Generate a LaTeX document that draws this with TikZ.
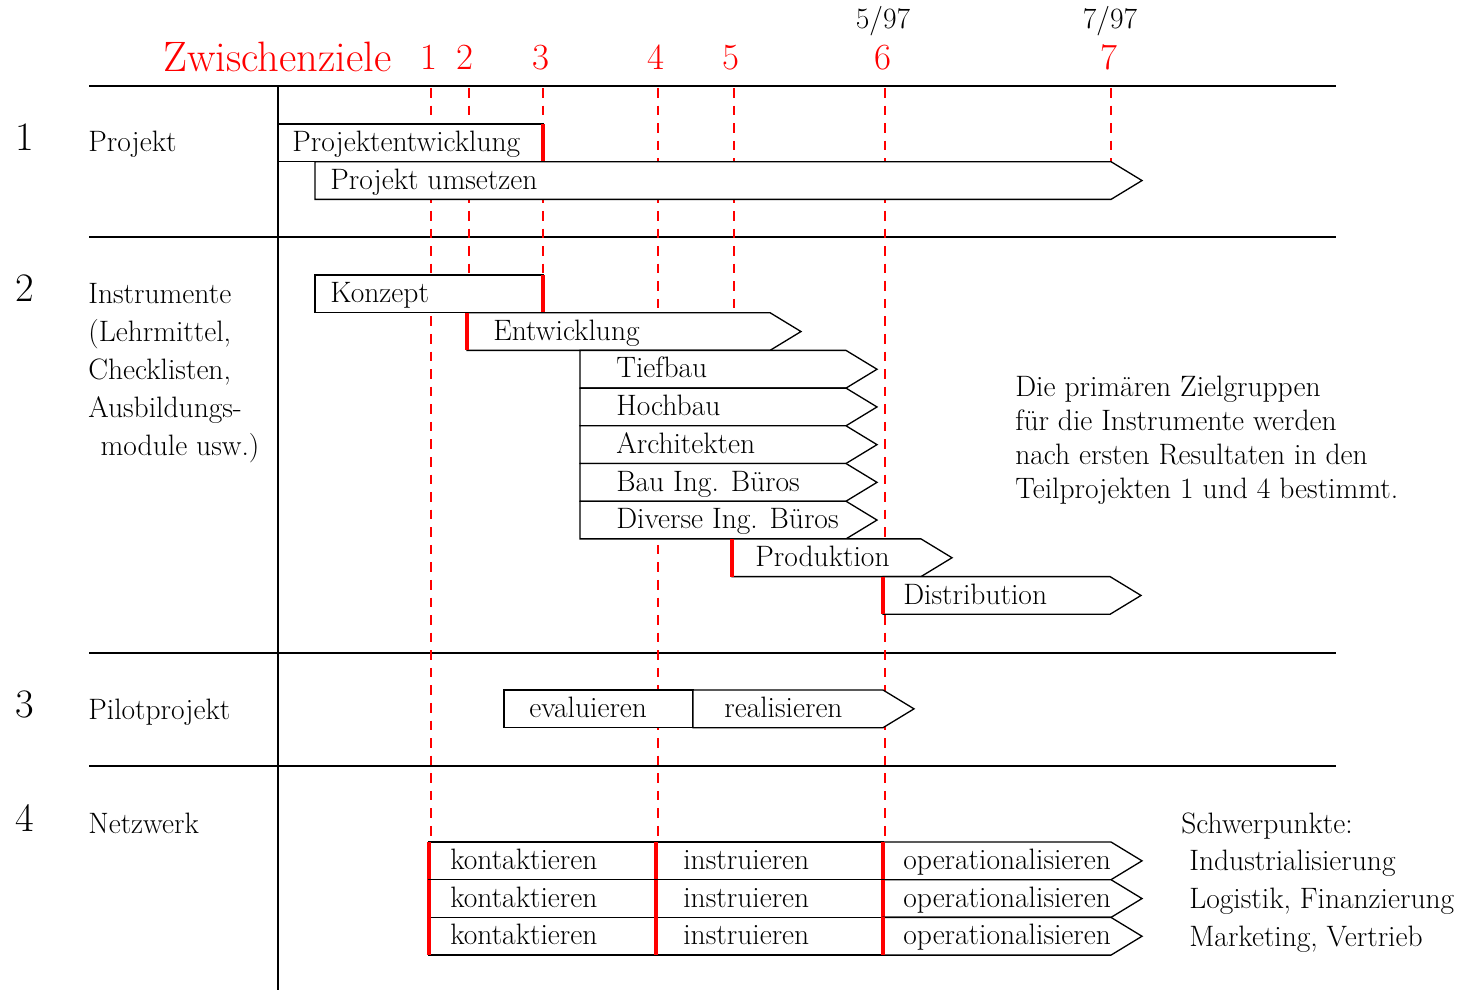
\documentclass[tikz,border=0pt]{standalone}
\usepackage{fontspec}
\usetikzlibrary{positioning}

% Balken: Name, x links, x rechts, y oben, x Text, Text
\newcommand{\kasten}[6]{%
  \draw[bar] (#2,#4) rectangle (#3,#4+37.7);
  \node[txt] (#1) at (#5,#4+27.5) {#6};}
\newcommand{\pfeil}[6]{%
  \draw[bar] (#2,#4) -- (#3,#4) -- (#3+31,#4+18.85) -- (#3,#4+37.7) -- (#2,#4+37.7) -- cycle;
  \node[txt] (#1) at (#5,#4+27.5) {#6};}
% roter Startstrich
\newcommand{\start}[2]{\draw[beginn] (#1,#2) -- (#1,#2+37.7);}

\begin{document}
\begin{tikzpicture}[
    x=0.02cm, y=-0.02cm,
    txt/.style={font=\fontsize{16.8}{21.5}\selectfont, inner sep=0pt, anchor=base west},
    notiz/.style={font=\fontsize{16.8}{19.3}\selectfont, inner sep=0pt, anchor=base west, align=left},
    nr/.style={font=\fontsize{23}{25}\selectfont, inner sep=0pt, anchor=base},
    titel/.style={font=\fontsize{24.2}{26}\selectfont, red, inner sep=0pt, anchor=base west},
    zielnr/.style={font=\fontsize{21}{23}\selectfont, red, inner sep=0pt, anchor=base},
    datum/.style={font=\fontsize{16.8}{18}\selectfont, inner sep=0pt, anchor=base},
    bar/.style={draw, fill=white, line width=0.75pt},
    beginn/.style={red, line width=1.8pt},
    ziel/.style={red, line width=0.8pt, dash pattern=on 5.5pt off 4.5pt},
    sep/.style={line width=1.1pt}
]
\useasboundingbox (0,0) rectangle (1461,990);

% Raster
\draw[sep] (89,86) -- (1336,86);
\draw[sep] (89,237) -- (1336,237);
\draw[sep] (89,653) -- (1336,653);
\draw[sep] (89,766) -- (1336,766);
\draw[sep] (278,86) -- (278,990);

% Zwischenziele
\node[titel] (zz) at (163,72) {Zwischenziele};
\node[zielnr] (z1) at (429,70) {1};
\node[zielnr] (z2) at (465,70) {2};
\node[zielnr] (z3) at (541,70) {3};
\node[zielnr] (z4) at (656,70) {4};
\node[zielnr] (z5) at (731,70) {5};
\node[zielnr] (z6) at (883,70) {6};
\node[zielnr] (z7) at (1109,70) {7};
\node[datum] (d6) at (883,29) {5/97};
\node[datum] (d7) at (1110,29) {7/97};

\draw[ziel] (431,88) -- (431,842);
\draw[ziel] (469,88) -- (469,312);
\draw[ziel] (543,88) -- (543,312);
\draw[ziel] (658,88) -- (658,842);
\draw[ziel] (734,88) -- (734,577);
\draw[ziel] (885,88) -- (885,842);
\draw[ziel] (1111,88) -- (1111,162);

% 1 Projekt
\node[nr] (n1) at (25,151) {1};
\node[txt] (p1) at (88,152) {Projekt};
\kasten{entw}{278}{543}{124}{292}{Projektentwicklung}
\start{543}{124}
\pfeil{umset}{315}{1111}{161.7}{330}{Projekt umsetzen}

% 2 Instrumente
\node[nr] (n2) at (25,301) {2};
\node[notiz, font=\fontsize{16.8}{21.5}\selectfont] (p2) at (88,455)
  {Instrumente\\(Lehrmittel,\\Checklisten,\\Ausbildungs-\\\hspace*{7pt}module usw.)};
\kasten{konz}{315}{543}{275}{330}{Konzept}
\start{543}{275}
\pfeil{ent}{467}{770}{312.7}{493}{Entwicklung}
\start{467}{312.7}
\pfeil{tief}{580}{846}{350.4}{616}{Tiefbau}
\pfeil{hoch}{580}{846}{388.1}{616}{Hochbau}
\pfeil{arch}{580}{846}{425.8}{616}{Architekten}
\pfeil{bib}{580}{846}{463.5}{616}{Bau Ing. Büros}
\pfeil{dib}{580}{846}{501.2}{616}{Diverse Ing. Büros}
\pfeil{prod}{732}{921}{538.9}{755}{Produktion}
\start{732}{538.9}
\pfeil{dist}{883}{1110}{576.6}{903}{Distribution}
\start{883}{576.6}
\node[notiz] (ziel) at (1015,498)
  {Die primären Zielgruppen\\für die Instrumente werden\\nach ersten Resultaten in den\\Teilprojekten 1 und 4 bestimmt.};

% 3 Pilotprojekt
\node[nr] (n3) at (25,717) {3};
\node[txt] (p3) at (88,719) {Pilotprojekt};
\kasten{eval}{504}{693}{690}{529}{evaluieren}
\pfeil{real}{693}{883}{690}{724}{realisieren}

% 4 Netzwerk
\node[nr] (n4) at (25,831) {4};
\node[txt] (p4) at (88,833) {Netzwerk};
\foreach \i in {0,1,2} {
  \kasten{kon\i}{429}{656}{842+37.7*\i}{450}{kontaktieren}
  \kasten{ins\i}{656}{883}{842+37.7*\i}{683}{instruieren}
  \pfeil{ope\i}{883}{1111}{842+37.7*\i}{903}{operationalisieren}
  \start{429}{842+37.7*\i}
  \start{656}{842+37.7*\i}
  \start{883}{842+37.7*\i}
}
\node[txt] (sp) at (1181,833) {Schwerpunkte:};
\node[notiz, font=\fontsize{16.8}{21.5}\selectfont] (spl) at (1189,946)
  {Industrialisierung\\Logistik, Finanzierung\\Marketing, Vertrieb};
\end{tikzpicture}
\end{document}
